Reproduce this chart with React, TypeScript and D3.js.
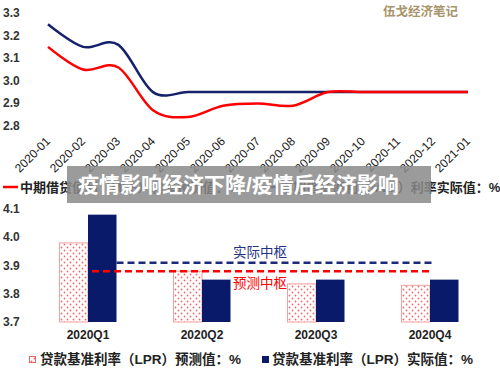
import React, { useEffect, useRef } from "react";
import * as d3 from "d3";

// top chart: MLF rate, monthly
const months = ["2020-01", "2020-02", "2020-03", "2020-04", "2020-05", "2020-06", "2020-07",
  "2020-08", "2020-09", "2020-10", "2020-11", "2020-12", "2021-01"];
const mlfForecast = [3.15, 3.05, 3.06, 2.87, 2.84, 2.89, 2.9, 2.89, 2.95, 2.95, 2.95, 2.95, 2.95];
const mlfActual = [3.25, 3.15, 3.16, 2.95, 2.95, 2.95, 2.95, 2.95, 2.95, 2.95, 2.95, 2.95, 2.95];
const topTicks = [2.8, 2.9, 3.0, 3.1, 3.2, 3.3];

// bottom chart: LPR, quarterly
const quarters = ["2020Q1", "2020Q2", "2020Q3", "2020Q4"];
const lprForecast = [3.98, 3.88, 3.835, 3.83];
const lprActual = [4.08, 3.85, 3.85, 3.85];
const bottomTicks = [3.7, 3.8, 3.9, 4.0, 4.1];
const actualCenter = 3.91;
const forecastCenter = 3.88;

const FONT = "'Liberation Sans', 'Noto Sans CJK SC', sans-serif";
const RED = "#ff0000";
const NAVY = "#0a1a6b";

export default function App() {
  const ref = useRef<SVGSVGElement>(null);

  useEffect(() => {
    document.body.style.margin = "0";
    const svg = d3.select(ref.current);
    svg.selectAll("*").remove();

    const defs = svg.append("defs");
    const pat = defs.append("pattern")
      .attr("id", "dots")
      .attr("width", 6).attr("height", 6)
      .attr("patternUnits", "userSpaceOnUse");
    pat.append("rect").attr("width", 6).attr("height", 6).attr("fill", "#fff");
    pat.append("circle").attr("cx", 1.5).attr("cy", 1.5).attr("r", 0.9).attr("fill", "#f26b6b");
    pat.append("circle").attr("cx", 4.5).attr("cy", 4.5).attr("r", 0.9).attr("fill", "#f26b6b");

    // ---------- top chart ----------
    const x = d3.scalePoint<string>().domain(months).range([48, 468]);
    const y = d3.scaleLinear().domain([2.8, 3.3]).range([126, 13]);

    svg.append("g").selectAll("text")
      .data(topTicks)
      .join("text")
      .attr("x", 3)
      .attr("y", d => y(d) + 4)
      .attr("font-size", 12)
      .attr("font-weight", "bold")
      .attr("fill", "#333")
      .text(d => d.toFixed(1));

    svg.append("g").selectAll("text")
      .data(months)
      .join("text")
      .attr("transform", d => `translate(${x(d)! + 3},${142}) rotate(-45)`)
      .attr("text-anchor", "end")
      .attr("font-size", 12)
      .attr("fill", "#1a1a1a")
      .text(d => d);

    const line = d3.line<number>()
      .x((d, i) => x(months[i])!)
      .y(d => y(d))
      .curve(d3.curveCatmullRom.alpha(0));

    svg.append("path").attr("d", line(mlfActual)).attr("fill", "none")
      .attr("stroke", "#14216b").attr("stroke-width", 2.5);
    svg.append("path").attr("d", line(mlfForecast)).attr("fill", "none")
      .attr("stroke", RED).attr("stroke-width", 2.5);

    svg.append("text")
      .attr("x", 383).attr("y", 16)
      .attr("font-size", 12.5).attr("font-weight", "bold")
      .attr("fill", "#a8956b")
      .text("伍戈经济笔记");

    // legend of top chart
    svg.append("line").attr("x1", 3).attr("x2", 18).attr("y1", 187).attr("y2", 187)
      .attr("stroke", RED).attr("stroke-width", 2.5);
    svg.append("text").attr("x", 20).attr("y", 192)
      .attr("font-size", 13).attr("font-weight", "bold").attr("fill", "#222")
      .text("中期借贷便利（MLF）利率预测值：%");
    svg.append("line").attr("x1", 262).attr("x2", 278).attr("y1", 187).attr("y2", 187)
      .attr("stroke", "#14216b").attr("stroke-width", 2.5);
    svg.append("text").attr("x", 280).attr("y", 192)
      .attr("font-size", 13).attr("font-weight", "bold").attr("fill", "#222")
      .text("中期借贷便利（MLF）利率实际值：%");

    // ---------- bottom chart ----------
    const xb = d3.scaleBand<string>().domain(quarters).range([31, 487])
      .paddingInner(0.5).paddingOuter(0.25);
    const xs = d3.scaleBand<string>().domain(["f", "a"]).range([0, xb.bandwidth()]);
    const yb = d3.scaleLinear().domain([3.7, 4.1]).range([322, 209]);

    svg.append("g").selectAll("text")
      .data(bottomTicks)
      .join("text")
      .attr("x", 3)
      .attr("y", d => yb(d) + 4)
      .attr("font-size", 12)
      .attr("font-weight", "bold")
      .attr("fill", "#333")
      .text(d => d.toFixed(1));

    svg.append("g").selectAll("rect")
      .data(lprForecast)
      .join("rect")
      .attr("x", (d, i) => xb(quarters[i])! + xs("f")!)
      .attr("y", d => yb(d))
      .attr("width", xs.bandwidth())
      .attr("height", d => yb(3.7) - yb(d))
      .attr("fill", "url(#dots)")
      .attr("stroke", "#f4a0a0")
      .attr("stroke-width", 1);

    svg.append("g").selectAll("rect")
      .data(lprActual)
      .join("rect")
      .attr("x", (d, i) => xb(quarters[i])! + xs("a")!)
      .attr("y", d => yb(d))
      .attr("width", xs.bandwidth())
      .attr("height", d => yb(3.7) - yb(d))
      .attr("fill", NAVY);

    svg.append("g").selectAll("text")
      .data(quarters)
      .join("text")
      .attr("x", d => xb(d)! + xb.bandwidth() / 2)
      .attr("y", 339)
      .attr("text-anchor", "middle")
      .attr("font-size", 12)
      .attr("font-weight", "bold")
      .attr("fill", "#222")
      .text(d => d);

    const lineEnd = xb("2020Q4")! + xb.bandwidth() / 2 + 2;
    svg.append("line")
      .attr("x1", xb("2020Q1")! + xb.bandwidth()).attr("x2", lineEnd)
      .attr("y1", yb(actualCenter)).attr("y2", yb(actualCenter))
      .attr("stroke", "#1b2a7a").attr("stroke-width", 2.5).attr("stroke-dasharray", "7,4");
    svg.append("line")
      .attr("x1", xb("2020Q1")! + xb.bandwidth() / 2 + 4).attr("x2", lineEnd)
      .attr("y1", yb(forecastCenter)).attr("y2", yb(forecastCenter))
      .attr("stroke", RED).attr("stroke-width", 2.5).attr("stroke-dasharray", "7,4");

    svg.append("text").attr("x", 233).attr("y", yb(actualCenter) - 6)
      .attr("font-size", 13.5).attr("fill", "#1f3285").text("实际中枢");
    svg.append("text").attr("x", 233).attr("y", yb(forecastCenter) + 17)
      .attr("font-size", 13.5).attr("fill", RED).text("预测中枢");

    // bottom legend
    svg.append("rect").attr("x", 29.5).attr("y", 356.5).attr("width", 6).attr("height", 6)
      .attr("fill", "url(#dots)").attr("stroke", "#f06060");
    svg.append("text").attr("x", 40).attr("y", 364)
      .attr("font-size", 13.5).attr("font-weight", "bold").attr("fill", "#222")
      .text("贷款基准利率（LPR）预测值：%");
    svg.append("rect").attr("x", 262).attr("y", 356).attr("width", 7).attr("height", 7)
      .attr("fill", NAVY);
    svg.append("text").attr("x", 272).attr("y", 364)
      .attr("font-size", 13.5).attr("font-weight", "bold").attr("fill", "#222")
      .text("贷款基准利率（LPR）实际值：%");

    // grey title band on top
    svg.append("rect").attr("x", 67).attr("y", 166).attr("width", 364).attr("height", 37)
      .attr("fill", "#8a8a8a").attr("opacity", 0.85);
    svg.append("text").attr("x", 78).attr("y", 192)
      .attr("font-size", 21).attr("font-weight", "bold").attr("fill", "#fff")
      .text("疫情影响经济下降/疫情后经济影响");
  }, []);

  return <svg ref={ref} width={500} height={370} style={{ display: "block", fontFamily: FONT }} />;
}
